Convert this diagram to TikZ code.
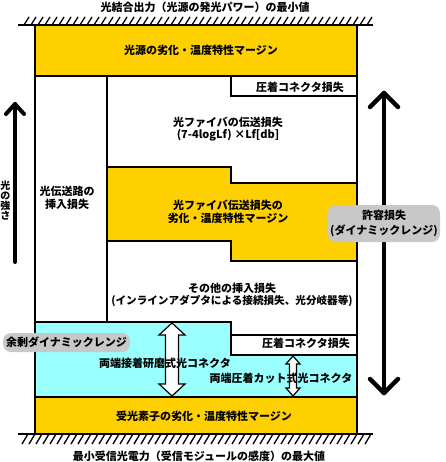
\documentclass[tikz,border=0pt]{standalone}
\usepackage{fontspec}
\setmainfont{Noto Sans CJK JP}
\definecolor{ylw}{RGB}{255,208,0}
\definecolor{cyn}{RGB}{153,255,255}
\definecolor{gry}{RGB}{200,200,200}
\begin{document}
\begin{tikzpicture}[x=1pt,y=-1pt,
  lbl/.style={font=\bfseries\fontsize{11}{12.5}\selectfont, inner sep=0pt, align=center},
  edge/.style={line width=2.5pt, line cap=rect},
  dbl/.style={fill=white, draw=black, line width=1.2pt, line join=miter},
  bigarrow/.style={line width=4.5pt, line cap=round, line join=round},
  graybox/.style={lbl, fill=gry, rounded corners=8pt},
  hatchline/.style={line width=2.5pt},
  hatch/.style={line width=1.3pt}]
\useasboundingbox (0,0) rectangle (445,462);
% fills
\fill[ylw] (35,25) rectangle (357,76);
\fill[ylw] (107,167) -- (231,167) -- (231,183) -- (357,183) -- (357,261) -- (231,261) -- (231,241) -- (107,241) -- cycle;
\fill[cyn] (35,322) -- (231,322) -- (231,355) -- (357,355) -- (357,397) -- (35,397) -- cycle;
\fill[ylw] (35,397) rectangle (357,434);
% lines
\draw[edge] (35,25) -- (35,434);
\draw[edge] (357,25) -- (357,434);
\draw[edge] (35,76) -- (357,76);
\draw[edge] (107,76) -- (107,322);
\draw[edge] (231,76) -- (231,96) -- (357,96);
\draw[edge] (107,167) -- (231,167) -- (231,183) -- (357,183);
\draw[edge] (107,241) -- (231,241) -- (231,261) -- (357,261);
\draw[edge] (35,322) -- (231,322) -- (231,355) -- (357,355);
\draw[edge] (231,335) -- (357,335);
\draw[edge] (35,397) -- (357,397);
% hatching
\draw[hatchline] (18,25) -- (373,25);
\foreach \x in {24,31,...,367} \draw[hatch] (\x,25) -- (\x+5,17);
\draw[hatchline] (18,434) -- (373,434);
\foreach \x in {22,29,...,365} \draw[hatch] (\x+6,434) -- (\x,444);
% double arrows
\draw[dbl] (172,323) -- (185,335) -- (178.5,335) -- (178.5,384) -- (185,384) -- (172,396) -- (159,384) -- (165.5,384) -- (165.5,335) -- (159,335) -- cycle;
\draw[dbl] (293,356) -- (300,364) -- (296.5,364) -- (296.5,388) -- (300,388) -- (293,396) -- (286,388) -- (289.5,388) -- (289.5,364) -- (286,364) -- cycle;
% left arrow
\coordinate (la1) at (15,262);
\coordinate (la2) at (15,104);
\draw[bigarrow, line width=4pt] (la1) -- (la2);
\draw[bigarrow, line width=4pt] (6,114) -- (la2) -- (24,114);
\node[lbl, font=\bfseries\fontsize{10}{10}\selectfont] (strength) at (5.5,201) {光\\の\\強\\さ};
% right arrow
\coordinate (ra1) at (384,93);
\coordinate (ra2) at (384,393);
\draw[bigarrow] (ra1) -- (ra2);
\draw[bigarrow] (370,107) -- (ra1) -- (398,107);
\draw[bigarrow] (370,379) -- (ra2) -- (398,379);
% gray boxes
\node[graybox, minimum width=112pt, minimum height=37pt, font=\bfseries\fontsize{11}{14.5}\selectfont] (kyoyo) at (384,223.5) {許容損失\\(ダイナミックレンジ)};
\node[graybox, minimum width=127pt, minimum height=19pt] (yojo) at (66.5,342.5) {余剰ダイナミックレンジ};
% texts
\node[lbl] (top) at (205,7) {光結合出力（光源の発光パワー）の最小値};
\node[lbl] (src) at (201,50) {光源の劣化・温度特性マージン};
\node[lbl] (pc1) at (300,87) {圧着コネクタ損失};
\node[lbl, font=\bfseries\fontsize{11}{13}\selectfont] (path) at (67,197.5) {光伝送路の\\挿入損失};
\node[lbl] (fib) at (228,129) {光ファイバの伝送損失\\(7-4logLf) ×Lf[db]};
\node[lbl] (fibm) at (228,212) {光ファイバ伝送損失の\\劣化・温度特性マージン};
\node[lbl] (oth) at (232,295) {その他の挿入損失\\{\fontsize{10.6}{12.5}\selectfont (インラインアダプタによる接続損失、光分岐器等)}};
\node[lbl] (pc2) at (306,343) {圧着コネクタ損失};
\node[lbl] (conA) at (165,363) {両端接着研磨式光コネクタ};
\node[lbl] (conB) at (281,378) {両端圧着カット式光コネクタ};
\node[lbl] (rcv) at (204,416) {受光素子の劣化・温度特性マージン};
\node[lbl] (bot) at (199,456) {最小受信光電力（受信モジュールの感度）の最大値};
\end{tikzpicture}
\end{document}
